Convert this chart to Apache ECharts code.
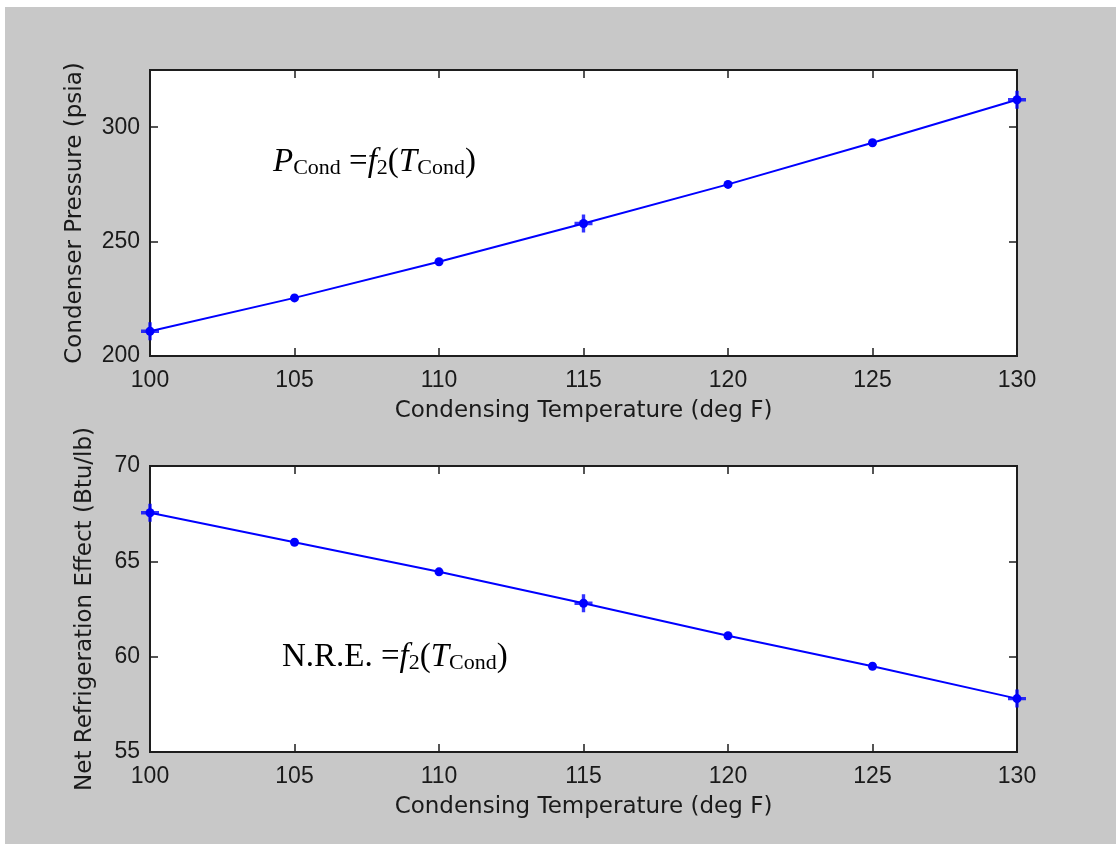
<!DOCTYPE html>
<html>
<head>
<meta charset="utf-8">
<script src="https://cdn.jsdelivr.net/npm/echarts@6/dist/echarts.min.js"></script>
<style>
  html, body { margin: 0; padding: 0; background: #ffffff; }
  #chart { position: absolute; left: 5px; top: 7px; width: 1111px; height: 837px; }
</style>
</head>
<body>
<div id="chart"></div>
<script>
// ---- data ----
const temps = [100, 105, 110, 115, 120, 125, 130];
const pressure = [210.8, 225.4, 241.2, 257.9, 275.0, 293.2, 312.0];
const nre = [67.55, 66.0, 64.45, 62.8, 61.1, 59.5, 57.8];
const crossTemps = [100, 115, 130];
const xTickLabels = [100, 105, 110, 115, 120, 125, 130];
const yTickLabels1 = [200, 250, 300];
const yTickLabels2 = [55, 60, 65, 70];
const xTitle = 'Condensing Temperature (deg F)';
const yTitle1 = 'Condenser Pressure (psia)';
const yTitle2 = 'Net Refrigeration Effect (Btu/lb)';

const blue = '#0000ff';
const axisCol = '#1e1e1e';
const textCol = '#1a1a1a';
const labelFont = 'Liberation Sans';
const titleFont = 'DejaVu Sans';

const crossPath = 'path://M6.5,0 H9.5 V6.5 H16 V9.5 H9.5 V16 H6.5 V9.5 H0 V6.5 H6.5 Z';

function pairs(xs, ys) { return xs.map((x, i) => [x, ys[i]]); }
function crossPairs(xs, ys) {
  return xs.map((x, i) => [x, ys[i]]).filter(p => crossTemps.indexOf(p[0]) >= 0);
}

function xAxes(gridIndex) {
  const base = {
    type: 'value', gridIndex: gridIndex,
    min: xTickLabels[0], max: xTickLabels[xTickLabels.length - 1],
    interval: xTickLabels[1] - xTickLabels[0],
    splitLine: { show: false },
    axisLine: { show: false }
  };
  return [
    Object.assign({}, base, {
      position: 'bottom',
      name: xTitle, nameLocation: 'middle', nameGap: 44,
      nameTextStyle: { fontFamily: titleFont, fontSize: 23, color: textCol },
      axisTick: { show: true, inside: true, length: 8, lineStyle: { color: axisCol, width: 1.5 } },
      axisLabel: { show: true, margin: 13, fontFamily: labelFont, fontSize: 23, color: textCol }
    }),
    Object.assign({}, base, {
      position: 'top',
      axisTick: { show: true, inside: true, length: 8, lineStyle: { color: axisCol, width: 1.5 } },
      axisLabel: { show: false }
    })
  ];
}

function yAxes(gridIndex, ticks, maxVal, title, gap) {
  const step = ticks[1] - ticks[0];
  const base = {
    type: 'value', gridIndex: gridIndex,
    min: ticks[0], max: maxVal, interval: step,
    splitLine: { show: false },
    axisLine: { show: false }
  };
  return [
    Object.assign({}, base, {
      position: 'left',
      name: title, nameLocation: 'middle', nameGap: gap, nameRotate: 90,
      nameTextStyle: { fontFamily: titleFont, fontSize: 23, color: textCol },
      axisTick: { show: true, inside: true, length: 8, lineStyle: { color: axisCol, width: 1.5 } },
      axisLabel: {
        show: true, margin: 10, fontFamily: labelFont, fontSize: 23, color: textCol,
        showMaxLabel: ticks.indexOf(maxVal) >= 0,
        formatter: function (v) { return ticks.indexOf(v) >= 0 ? String(v) : ''; }
      }
    }),
    Object.assign({}, base, {
      position: 'right',
      axisTick: { show: true, inside: true, length: 8, lineStyle: { color: axisCol, width: 1.5 } },
      axisLabel: { show: false }
    })
  ];
}

function seriesFor(xIdx, yIdx, ys) {
  return [
    {
      type: 'line', xAxisIndex: xIdx, yAxisIndex: yIdx,
      data: pairs(temps, ys),
      symbol: 'circle', symbolSize: 9, showSymbol: true,
      lineStyle: { color: blue, width: 2 },
      itemStyle: { color: blue },
      clip: false, animation: false, z: 3
    },
    {
      type: 'scatter', xAxisIndex: xIdx, yAxisIndex: yIdx,
      data: crossPairs(temps, ys),
      symbol: crossPath, symbolSize: 18,
      itemStyle: { color: blue },
      clip: false, animation: false, z: 4
    }
  ];
}

const gridBase = {
  show: true, left: 145, width: 867, height: 286,
  backgroundColor: '#ffffff', borderColor: axisCol, borderWidth: 2
};

const richMath = {
  i: { fontFamily: 'Liberation Serif', fontStyle: 'italic', fontSize: 33, lineHeight: 36, verticalAlign: 'bottom', color: '#000' },
  r: { fontFamily: 'Liberation Serif', fontSize: 33, lineHeight: 36, verticalAlign: 'bottom', color: '#000' },
  s: { fontFamily: 'Liberation Serif', fontSize: 22, lineHeight: 20, verticalAlign: 'bottom', color: '#000' }
};

const chart = echarts.init(document.getElementById('chart'));
chart.setOption({
  backgroundColor: '#c8c8c8',
  animation: false,
  grid: [
    Object.assign({}, gridBase, { top: 63 }),
    Object.assign({}, gridBase, { top: 459 })
  ],
  xAxis: xAxes(0).concat(xAxes(1)),
  yAxis: yAxes(0, yTickLabels1, 325, yTitle1, 63).concat(yAxes(1, yTickLabels2, 70, yTitle2, 53)),
  series: seriesFor(0, 0, pressure).concat(seriesFor(2, 2, nre)),
  graphic: [
    {
      type: 'text', left: 268, top: 139, z: 10,
      style: {
        text: '{i|P}{s|Cond}{r| =}{i|f}{s|2}{r|(}{i|T}{s|Cond}{r|)}',
        rich: richMath
      }
    },
    {
      type: 'text', left: 277, top: 634, z: 10,
      style: {
        text: '{r|N.R.E. =}{i|f}{s|2}{r|(}{i|T}{s|Cond}{r|)}',
        rich: richMath
      }
    }
  ]
});
</script>
</body>
</html>
